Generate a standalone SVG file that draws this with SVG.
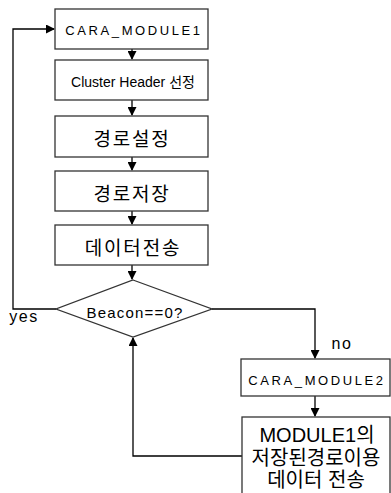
<svg xmlns="http://www.w3.org/2000/svg" width="391" height="493" viewBox="0 0 391 493">
<style>
.box{fill:#fff;stroke:#333;stroke-width:1.3}
.ln{fill:none;stroke:#000;stroke-width:1.3}
.t{font-family:"Liberation Sans","Noto Sans CJK KR",sans-serif;fill:#000;text-anchor:middle}
.s{font-size:13px;letter-spacing:2.6px}
.m{font-size:14px}
.y{font-size:16px;letter-spacing:1.5px}
.be{font-size:15px;letter-spacing:1.2px}
.k{font-size:19px;letter-spacing:1.8px}
.b{font-size:20px}
</style>
<defs>
<marker id="ah" markerWidth="9" markerHeight="9" refX="8" refY="4.5" orient="auto" markerUnits="userSpaceOnUse">
<path d="M0,0 L9,4.5 L0,9 Z" fill="#000"/>
</marker>
</defs>
<g id="connectors">
<line class="ln" x1="132" y1="49" x2="132" y2="59" marker-end="url(#ah)"/>
<line class="ln" x1="132" y1="100" x2="132" y2="115" marker-end="url(#ah)"/>
<line class="ln" x1="132" y1="157" x2="132" y2="170" marker-end="url(#ah)"/>
<line class="ln" x1="132" y1="211" x2="132" y2="224" marker-end="url(#ah)"/>
<line class="ln" x1="132" y1="265" x2="132" y2="279" marker-end="url(#ah)"/>
<polyline class="ln" points="56,309 13,309 13,29 54,29" marker-end="url(#ah)"/>
<polyline class="ln" points="212,309 315,309 315,358" marker-end="url(#ah)"/>
<line class="ln" x1="315" y1="396" x2="315" y2="416" marker-end="url(#ah)"/>
<polyline class="ln" points="242,456 133,456 133,338" marker-end="url(#ah)"/>
<text class="t y" x="24" y="322">yes</text>
<text class="t y" x="342" y="349">no</text>
</g>
<g id="n1"><rect class="box" x="55" y="9" width="153" height="40"/><text class="t s" x="134" y="35">CARA_MODULE1</text></g>
<g id="n2"><rect class="box" x="55" y="60" width="153" height="40"/><text class="t m" x="133" y="87">Cluster Header 선정</text></g>
<g id="n3"><rect class="box" x="55" y="116" width="153" height="41"/><text class="t k" x="132" y="146">경로설정</text></g>
<g id="n4"><rect class="box" x="55" y="171" width="153" height="40"/><text class="t k" x="132" y="201">경로저장</text></g>
<g id="n5"><rect class="box" x="55" y="225" width="153" height="40"/><text class="t k" x="133" y="255">데이터전송</text></g>
<g id="n6"><polygon class="box" points="133,280 212,309 133,337 56,309"/><text class="t be" x="135" y="318">Beacon==0?</text></g>
<g id="n7"><rect class="box" x="241" y="359" width="149" height="37"/><text class="t s" x="317" y="385">CARA_MODULE2</text></g>
<g id="n8"><rect class="box" x="242" y="417" width="148" height="80"/><text class="t b" x="317" y="442">MODULE1의</text><text class="t b" x="316" y="465">저장된경로이용</text><text class="t b" x="316" y="487">데이터 전송</text></g>
</svg>
